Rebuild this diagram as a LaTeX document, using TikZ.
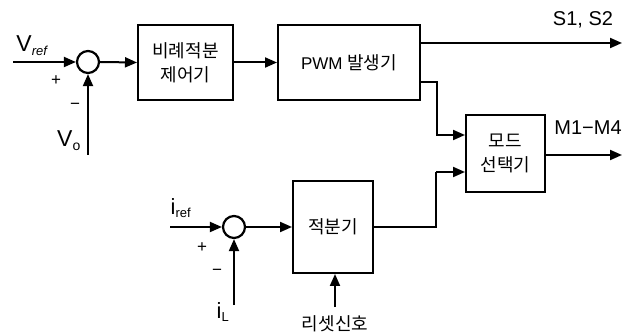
\documentclass[tikz,border=0pt]{standalone}
\usepackage{fontspec}
\setmainfont{Liberation Sans}
\newfontfamily\kr{Noto Sans CJK KR}
\usetikzlibrary{arrows.meta}
\begin{document}
\begin{tikzpicture}[x=1pt,y=-1pt,
  line width=2pt,
  arr/.style={-{Triangle[length=12pt,width=10pt]}},
  blk/.style={draw,line width=2pt,inner sep=0pt,align=center,font=\kr\fontsize{18}{24}\selectfont},
  sumc/.style={draw,circle,line width=2.2pt,minimum size=22pt,inner sep=0pt},
  lbl/.style={inner sep=0pt,font=\fontsize{20}{22}\selectfont}]
\useasboundingbox (0,0) rectangle (631,336);
% upper loop
\coordinate (vin) at (13,62);
\node[sumc] (c1) at (88,62) {};
\coordinate (vo) at (88,155);
\node[blk,minimum width=95pt,minimum height=75pt] (pi) at (185.5,62.5) {비례적분\\제어기};
\node[blk,minimum width=142pt,minimum height=75pt] (pwm) at (349,62.5) {\rmfamily\fontsize{17}{20}\selectfont PWM {\kr\fontsize{18}{20}\selectfont 발생기}};
\coordinate (s1) at (622,43);
\node[blk,minimum width=79pt,minimum height=77pt] (mode) at (505.5,153.5) {모드\\선택기};
\coordinate (m1) at (622,155);
% lower loop
\coordinate (iin) at (170,227);
\node[sumc] (c2) at (234,227) {};
\coordinate (il) at (234,305);
\node[blk,minimum width=80pt,minimum height=92pt] (int) at (333,227) {적분기};
\coordinate (rs) at (335,307);
% connectors
\draw[arr] (vin) -- (c1.west);
\draw[arr] (vo) -- (c1.south);
\draw[arr] (c1.east) -- (pi.west);
\draw[arr] (pi.east) -- (pwm.west);
\draw[arr] (pwm.east |- s1) -- (s1);
\draw[arr] (pwm.east |- 0,82) -- (437,82) -- (437,135) -- (mode.west |- 0,135);
\draw[arr] (mode.east |- m1) -- (m1);
\draw[arr] (iin) -- (c2.west);
\draw[arr] (il) -- (c2.south);
\draw[arr] (c2.east) -- (int.west);
\draw (int.east) -- (436,227) -- (436,172);
\draw[arr] (436,172) -- (mode.west |- 0,172);
\draw[arr] (rs) -- (int.south -| rs);
% labels
\node[lbl] (lvref) at (32,46) {\fontsize{23}{23}\selectfont V\textsubscript{\itshape\fontsize{13}{13}\selectfont ref}};
\node[lbl,font=\fontsize{17}{17}\selectfont] (p1) at (56,81) {+};
\node[lbl,font=\fontsize{17}{17}\selectfont] (n1) at (75,106) {−};
\node[lbl] (lvo) at (69,141) {\fontsize{23}{23}\selectfont V\textsubscript{\fontsize{14}{14}\selectfont o}};
\node[lbl] (liref) at (181,208) {\fontsize{22}{22}\selectfont i\textsubscript{\fontsize{13}{13}\selectfont ref}};
\node[lbl,font=\fontsize{17}{17}\selectfont] (p2) at (202,248) {+};
\node[lbl,font=\fontsize{17}{17}\selectfont] (n2) at (217,272) {−};
\node[lbl] (lil) at (223,312) {\fontsize{22}{22}\selectfont i\textsubscript{\fontsize{13}{13}\selectfont L}};
\node[lbl] (ls) at (583,20) {S1, S2};
\node[lbl] (lm) at (588,128) {M1−M4};
\node[lbl,font=\kr\fontsize{18}{20}\selectfont] (lr) at (335,324) {리셋신호};
\end{tikzpicture}
\end{document}
